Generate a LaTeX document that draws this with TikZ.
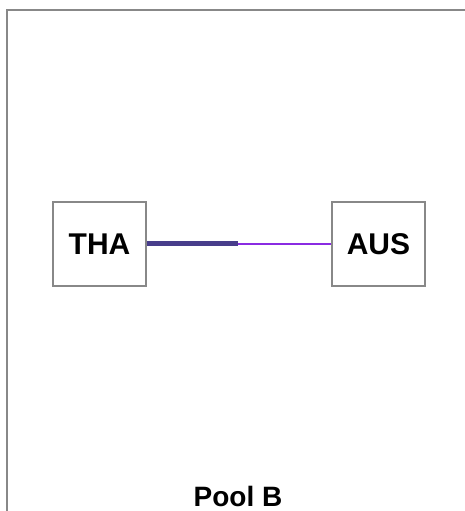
\documentclass[tikz,border=0pt]{standalone}
\usepackage{fontspec}
\setmainfont{Liberation Sans}
\usepackage{tikz}
\definecolor{boxgray}{HTML}{888888}
\definecolor{heavyedge}{HTML}{483D8B}
\definecolor{lightedge}{HTML}{8A2BE2}

\begin{document}
\begin{tikzpicture}[x=1pt, y=-1pt,
        team/.style={rectangle, draw=boxgray, line width=1.3pt, fill=white,
            minimum width=93pt, minimum height=84pt, inner sep=0pt,
            font=\fontsize{30}{35}\selectfont\bfseries}]
            \useasboundingbox (0,0) rectangle (465,511);

            % frame
            \coordinate (fr) at (465,10);
            \coordinate (fc) at (7,10);
            \coordinate (fb) at (7,511);
            \draw[boxgray, line width=1.3pt] (fr) -- (fc) -- (fb);

            % teams
            \node[team] (tha) at (99.5,244) {THA};
            \node[team] (aus) at (378.5,244) {AUS};

            % edge
            \coordinate (mid) at (238,243.5);
            \draw[heavyedge, line width=5.5pt] (tha.east |- mid) -- (mid);
            \draw[lightedge, line width=2pt] (mid) -- (aus.west |- mid);

            % title
            \node[font=\fontsize{28}{33}\selectfont\bfseries] (title) at (238,496) {Pool B};
        \end{tikzpicture}
\end{document}
